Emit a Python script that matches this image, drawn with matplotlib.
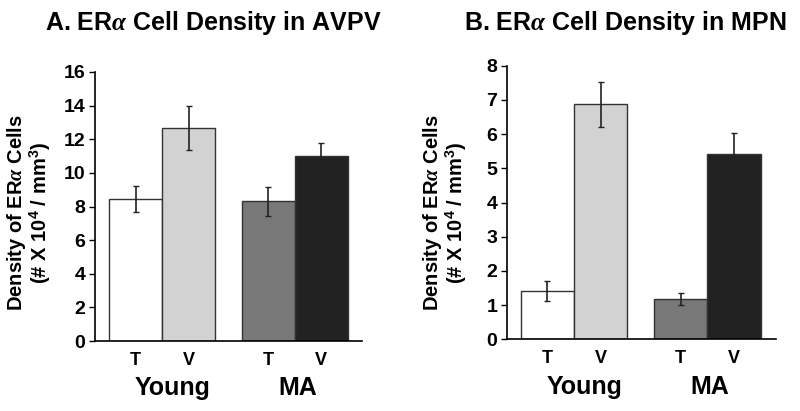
import numpy as np
import matplotlib.pyplot as plt

plt.rcParams['font.family'] = ['Liberation Sans', 'DejaVu Sans']
plt.rcParams['font.weight'] = 'bold'
plt.rcParams['mathtext.fontset'] = 'custom'
plt.rcParams['mathtext.rm'] = 'Liberation Sans:bold'
plt.rcParams['mathtext.bf'] = 'Liberation Sans:bold'
plt.rcParams['mathtext.it'] = 'Liberation Serif:italic'

# ── data ──────────────────────────────────────────────
bar_labels = ['T', 'V', 'T', 'V']
groups = ['Young', 'MA']
colors = ['#ffffff', '#d2d2d2', '#787878', '#222222']

avpv_mean = [8.45, 12.65, 8.3, 11.0]
avpv_err = [0.78, 1.3, 0.85, 0.78]
mpn_mean = [1.4, 6.87, 1.17, 5.42]
mpn_err = [0.29, 0.65, 0.18, 0.6]

pos = [0, 1, 2.5, 3.5]
group_pos = [0.7, 3.05]

fig = plt.figure(figsize=(8, 4.11), dpi=100)

def panel(rect, means, errs, ymax, ystep, title, title_x, ylab_x, xlim):
    ax = fig.add_axes(rect)
    ax.bar(pos, means, width=1.0, color=colors, edgecolor='#333333', linewidth=1.0)
    ax.errorbar(pos, means, yerr=errs, fmt='none', ecolor='#222222',
                elinewidth=1.2, capsize=2.5, capthick=1.0)
    ax.set_ylim(0, ymax)
    ax.set_yticks(np.arange(0, ymax + 0.1, ystep))
    ax.set_xlim(*xlim)
    ax.spines['top'].set_visible(False)
    ax.spines['right'].set_visible(False)
    ax.spines['left'].set_bounds(0, ymax)
    ax.spines['left'].set_linewidth(1.2)
    ax.spines['bottom'].set_linewidth(1.2)
    ax.set_xticks(pos)
    ax.set_xticklabels(bar_labels, fontsize=13, fontweight='bold')
    ax.tick_params(axis='x', length=0, pad=8)
    ax.tick_params(axis='y', length=4, width=1.0, labelsize=14, pad=3)
    for lab in ax.get_yticklabels():
        lab.set_fontweight('bold')
    for g, gx in zip(groups, group_pos):
        ax.text(gx, -0.175, g, transform=ax.get_xaxis_transform(),
                ha='center', va='center', fontsize=18, fontweight='bold')
    fig.text(title_x, 0.944, title, ha='center', va='center',
             fontsize=18, fontweight='bold')
    fig.text(ylab_x, 0.482,
             'Density of ER$\\alpha$ Cells\n(# X 10$^{4}$ / mm$^{3}$)',
             rotation=90, ha='center', va='center', multialignment='center',
             fontsize=14.5, fontweight='bold', linespacing=1.0)
    return ax

panel([0.119, 0.170, 0.3335, 0.655], avpv_mean, avpv_err, 16, 2,
      'A. ER$\\alpha$ Cell Density in AVPV', 0.266, 0.036, (-0.764, 4.27))
ax_b = panel([0.634, 0.1745, 0.336, 0.6655], mpn_mean, mpn_err, 8, 1,
             'B. ER$\\alpha$ Cell Density in MPN', 0.781, 0.556, (-0.756, 4.29))

fig.savefig('out.png', dpi=100)
